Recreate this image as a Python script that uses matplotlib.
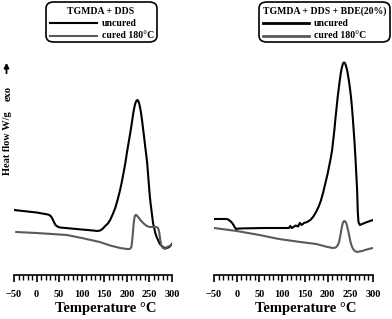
import numpy as np
import matplotlib.pyplot as plt
from matplotlib.patches import FancyBboxPatch, FancyArrowPatch

plt.rcParams['font.family'] = ['Liberation Serif', 'DejaVu Serif']
plt.rcParams['font.weight'] = 'bold'

# ---- datos (flujo de calor en unidades arbitrarias) ----
T_izq_uncured = [-50, 0, 25, 30, 33, 36, 39, 42, 46, 52, 100, 125, 134, 141, 147, 152,
                 158, 163, 169, 175, 180, 185, 189, 193, 197, 200, 203, 206, 209, 211,
                 213, 215, 217, 219, 221, 223, 225, 227, 229, 231, 233, 236, 239, 241,
                 243, 245, 248, 251, 253, 255, 258, 261, 263, 266, 269, 272, 275, 280,
                 284, 289, 294, 300]
q_izq_uncured = [1.30, 1.25, 1.21, 1.19, 1.16, 1.11, 1.05, 1.00, 0.97, 0.95, 0.91, 0.89,
                 0.88, 0.89, 0.93, 0.98, 1.03, 1.10, 1.22, 1.36, 1.52, 1.70, 1.87, 2.06,
                 2.26, 2.44, 2.60, 2.76, 2.92, 3.04, 3.16, 3.28, 3.37, 3.44, 3.48, 3.50,
                 3.49, 3.44, 3.36, 3.26, 3.14, 2.92, 2.70, 2.54, 2.40, 2.24, 1.90, 1.56,
                 1.40, 1.26, 1.04, 0.92, 0.84, 0.76, 0.70, 0.64, 0.60, 0.56, 0.54, 0.54,
                 0.56, 0.62]

T_izq_cured = [-45, 0, 67, 100, 140, 163, 185, 200, 205, 208, 210, 211.5, 213, 215, 217,
               219, 221, 225, 230, 236, 244, 251, 260, 265, 268, 270, 272, 274, 276, 280,
               285, 289, 295, 300]
q_izq_cured = [0.86, 0.84, 0.80, 0.74, 0.66, 0.59, 0.54, 0.52, 0.52, 0.53, 0.56, 0.66,
               0.80, 1.02, 1.16, 1.20, 1.20, 1.16, 1.10, 1.04, 0.98, 0.96, 0.96, 0.96,
               0.95, 0.92, 0.84, 0.70, 0.60, 0.54, 0.52, 0.56, 0.58, 0.60]

T_der_uncured = [-50, -22, -19, -16, -13, -10, -7, -4, -1.5, 5, 60, 115, 118, 121, 125,
                 130, 135, 139, 143, 148, 155, 162, 168, 174, 180, 185, 190, 195, 200,
                 204, 207, 210, 212, 215, 217, 220, 222, 225, 227, 229, 231, 233, 234,
                 236, 238, 240, 243, 246, 248, 250, 252, 254, 256, 259, 261, 263, 265,
                 266.5, 268, 271, 276, 287, 300]
q_der_uncured = [1.12, 1.12, 1.11, 1.09, 1.07, 1.04, 1.00, 0.95, 0.92, 0.93, 0.94, 0.94,
                 0.98, 0.94, 0.96, 0.99, 0.97, 1.04, 1.00, 1.04, 1.06, 1.10, 1.16, 1.25,
                 1.36, 1.48, 1.64, 1.83, 2.02, 2.20, 2.34, 2.50, 2.66, 2.90, 3.10, 3.36,
                 3.54, 3.76, 3.90, 4.03, 4.13, 4.20, 4.23, 4.25, 4.24, 4.20, 4.10, 3.94,
                 3.82, 3.68, 3.52, 3.32, 3.08, 2.70, 2.40, 2.06, 1.70, 1.26, 1.06, 1.00,
                 1.02, 1.06, 1.10]

T_der_cured = [-50, 0, 50, 93, 140, 175, 200, 212, 218, 222, 225, 228, 231, 233, 235,
               237, 239, 241, 243, 246, 248, 250, 252, 254, 257, 260, 265, 276, 290, 300]
q_der_cured = [0.94, 0.88, 0.80, 0.72, 0.66, 0.62, 0.56, 0.54, 0.55, 0.59, 0.65, 0.78,
               0.94, 1.02, 1.07, 1.08, 1.07, 1.04, 0.98, 0.86, 0.77, 0.68, 0.61, 0.56,
               0.51, 0.48, 0.46, 0.48, 0.52, 0.54]

titulos = ["TGMDA + DDS", "TGMDA + DDS + BDE(20%)"]
etiquetas = ["uncured", "cured 180°C"]
ticks_mayores = [-50, 0, 50, 100, 150, 200, 250, 300]

W, H = 392, 319
fig = plt.figure(figsize=(W / 100, H / 100), dpi=100)

def px(x, y):
    # pixel (desde arriba) -> coordenadas de figura
    return x / W, 1 - y / H

color_cured = '#5a5a5a'

def panel(x0, x1, T_u, q_u, T_c, q_c):
    ax = fig.add_axes([x0 / W, (H - 275) / H, (x1 - x0) / W, 225 / H])
    ax.plot(T_u, q_u, color='black', lw=1.5, solid_joinstyle='round')
    ax.plot(T_c, q_c, color=color_cured, lw=1.5, solid_joinstyle='round')
    ax.set_xlim(-50, 300)
    ax.set_ylim(0, 4.5)
    for s in ['left', 'right', 'top']:
        ax.spines[s].set_visible(False)
    ax.spines['bottom'].set_linewidth(1.2)
    ax.set_yticks([])
    ax.set_xticks(ticks_mayores)
    ax.set_xticks(np.arange(-50, 301, 10), minor=True)
    ax.tick_params(axis='x', which='major', length=5, width=1.2, labelsize=7.5, pad=6)
    ax.tick_params(axis='x', which='minor', length=3.5, width=1.0)
    for lb in ax.get_xticklabels():
        lb.set_fontweight('bold')
    ax.set_xlabel("Temperature °C", fontsize=10.5, fontweight='bold')
    ax.xaxis.set_label_coords(0.58, -0.12)
    return ax

panel(14, 172, T_izq_uncured, q_izq_uncured, T_izq_cured, q_izq_cured)
panel(214, 373, T_der_uncured, q_der_uncured, T_der_cured, q_der_cured)

# cajas de leyenda
def caja(x0, x1, titulo, xt, xl0, xl1, xe, lw_leg):
    a, b = px(x0, 42)
    c, d = px(x1, 2)
    fig.patches.append(FancyBboxPatch((a, b), c - a, d - b,
                                      boxstyle="round,pad=0,rounding_size=0.02",
                                      transform=fig.transFigure, fill=False,
                                      edgecolor='black', lw=1.2))
    fig.text(*px(xt, 11), titulo, ha='center', va='center', fontsize=7,
             fontweight='bold')
    for y, col, lab in [(23, 'black', etiquetas[0]), (35.5, color_cured, etiquetas[1])]:
        fig.lines.append(plt.Line2D([xl0 / W, xl1 / W], [1 - y / H, 1 - y / H],
                                    transform=fig.transFigure, color=col, lw=lw_leg))
        fig.text(*px(xe, y), lab, ha='left', va='center', fontsize=7,
                 fontweight='bold')

caja(46, 157, titulos[0], 101, 50, 97, 102, 1.5)
caja(259, 390, titulos[1], 325, 263, 309, 314, 2.0)

# eje y
fig.text(*px(8, 143.5), "Heat flow W/g", rotation=90, ha='center', va='center',
         fontsize=7.5, fontweight='bold')
fig.text(*px(8, 93.5), "exo", rotation=90, ha='center', va='center',
         fontsize=7.5, fontweight='bold')
fig.patches.append(FancyArrowPatch(
    px(6.5, 76), px(6.5, 60), transform=fig.transFigure, arrowstyle='-|>',
    mutation_scale=7, color='black', lw=1.3))

fig.savefig("out.png", dpi=100)
